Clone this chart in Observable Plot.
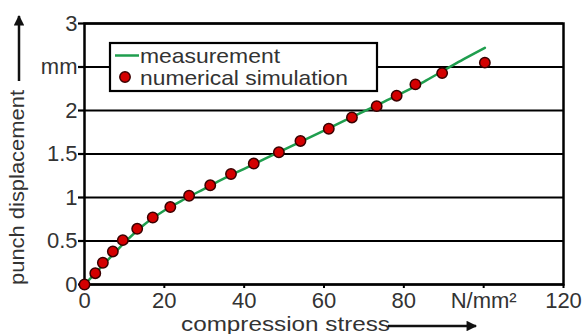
<!DOCTYPE html>
<html>
<head>
<meta charset="utf-8">
<script src="https://cdn.jsdelivr.net/npm/d3@7"></script>
<script src="https://cdn.jsdelivr.net/npm/@observablehq/plot@0.6"></script>
<style>
  html, body { margin: 0; padding: 0; background: #fff; }
</style>
</head>
<body>
<div id="chart"></div>
<script>
// ---- data ----
const measStress = [0, 2.5, 5, 7.5, 10, 15, 20, 25, 30, 35, 40, 45, 50, 55, 60, 65, 70, 75, 80, 85, 90, 95, 100.3];
const measDisp   = [0, 0.12, 0.24, 0.36, 0.48, 0.69, 0.85, 0.98, 1.10, 1.22, 1.33, 1.44, 1.55, 1.66, 1.77, 1.88, 1.99, 2.10, 2.21, 2.33, 2.46, 2.59, 2.72];
const simStress  = [0, 2.7, 4.6, 7.1, 9.6, 13.2, 17.1, 21.5, 26.2, 31.5, 36.7, 42.4, 48.7, 54.1, 61.2, 67.0, 73.2, 78.2, 82.9, 89.6, 100.3];
const simDisp    = [0, 0.13, 0.25, 0.38, 0.51, 0.64, 0.77, 0.89, 1.02, 1.14, 1.27, 1.39, 1.52, 1.65, 1.79, 1.92, 2.05, 2.17, 2.30, 2.43, 2.55];
const xTicks = [0, 20, 40, 60, 80, 100, 120];
const xTickLabels = ["0", "20", "40", "60", "80", "N/mm²", "120"];
const yTicks = [0, 0.5, 1, 1.5, 2, 2.5, 3];
const yTickLabels = ["0", "0.5", "1", "1.5", "2", "mm", "3"];
const seriesNames = ["measurement", "numerical simulation"];
const xTitle = "compression stress";
const yTitle = "punch displacement";

const meas = measStress.map((x, i) => ({x, y: measDisp[i]}));
const sim = simStress.map((x, i) => ({x, y: simDisp[i]}));

const green = "#1f9e4e";
const red = "#d40000";
const font = "Liberation Sans, Arial, Helvetica, sans-serif";

const plot = Plot.plot({
  width: 587,
  height: 334,
  marginLeft: 84,
  marginRight: 24,
  marginTop: 23,
  marginBottom: 50,
  style: {fontFamily: font, background: "#fff", color: "black"},
  x: {domain: [0, 120]},
  y: {domain: [0, 3]},
  marks: [
    Plot.ruleY(yTicks, {stroke: "black", strokeWidth: 2.2}),
    Plot.frame({stroke: "black", strokeWidth: 2.5}),
    Plot.axisX({ticks: xTicks, tickFormat: d => xTickLabels[xTicks.indexOf(d)], tickSize: 4, tickPadding: 4, strokeWidth: 2, fontSize: 22, fill: "#333", label: null}),
    Plot.axisY({ticks: yTicks, tickFormat: d => yTickLabels[yTicks.indexOf(d)], tickSize: 6, tickPadding: 1, strokeWidth: 2.2, fontSize: 22, fill: "#333", label: null}),
    Plot.line(meas, {x: "x", y: "y", stroke: green, strokeWidth: 2.5, curve: "monotone-x"}),
    Plot.dot(sim, {x: "x", y: "y", r: 5.2, fill: red, stroke: "#3a0000", strokeWidth: 1.5})
  ]
});

document.getElementById("chart").appendChild(plot);

// ---- decorations: legend, axis titles with arrows ----
const svg = d3.select(plot);
const defs = svg.append("defs");
defs.append("marker").attr("id", "ah").attr("viewBox", "0 0 10 10")
  .attr("refX", 9).attr("refY", 5).attr("markerWidth", 4.8).attr("markerHeight", 4.2)
  .attr("markerUnits", "strokeWidth").attr("orient", "auto")
  .append("path").attr("d", "M0,0 L10,5 L0,10 z").attr("fill", "#111");

function addText(g, x, y, s, len, size, transform) {
  const t = g.append("text").attr("x", x).attr("y", y).text(s)
    .attr("font-size", size).attr("fill", "#333").attr("font-family", font)
    .attr("text-anchor", "start")
    .attr("textLength", len).attr("lengthAdjust", "spacingAndGlyphs");
  if (transform) t.attr("transform", transform);
  return t;
}

// legend
const lg = svg.append("g");
lg.append("rect").attr("x", 110).attr("y", 43).attr("width", 267).attr("height", 48)
  .attr("fill", "#fff").attr("stroke", "black").attr("stroke-width", 2.2);
lg.append("line").attr("x1", 115).attr("x2", 139).attr("y1", 55.5).attr("y2", 55.5)
  .attr("stroke", green).attr("stroke-width", 2.5);
lg.append("circle").attr("cx", 125).attr("cy", 77).attr("r", 5.2)
  .attr("fill", red).attr("stroke", "#3a0000").attr("stroke-width", 1.5);
addText(lg, 140, 63, seriesNames[0], 140, 21);
addText(lg, 140, 85, seriesNames[1], 208, 21);

// x title
addText(svg, 181, 331, xTitle, 209, 20);
svg.append("line").attr("x1", 388).attr("x2", 476).attr("y1", 326).attr("y2", 326)
  .attr("stroke", "#111").attr("stroke-width", 2.5).attr("marker-end", "url(#ah)");

// y title
addText(svg, 0, 0, yTitle, 195, 21, "translate(23.5,285) rotate(-90)");
svg.append("line").attr("x1", 19).attr("x2", 19).attr("y1", 81).attr("y2", 16)
  .attr("stroke", "#111").attr("stroke-width", 2.5).attr("marker-end", "url(#ah)");
</script>
</body>
</html>
